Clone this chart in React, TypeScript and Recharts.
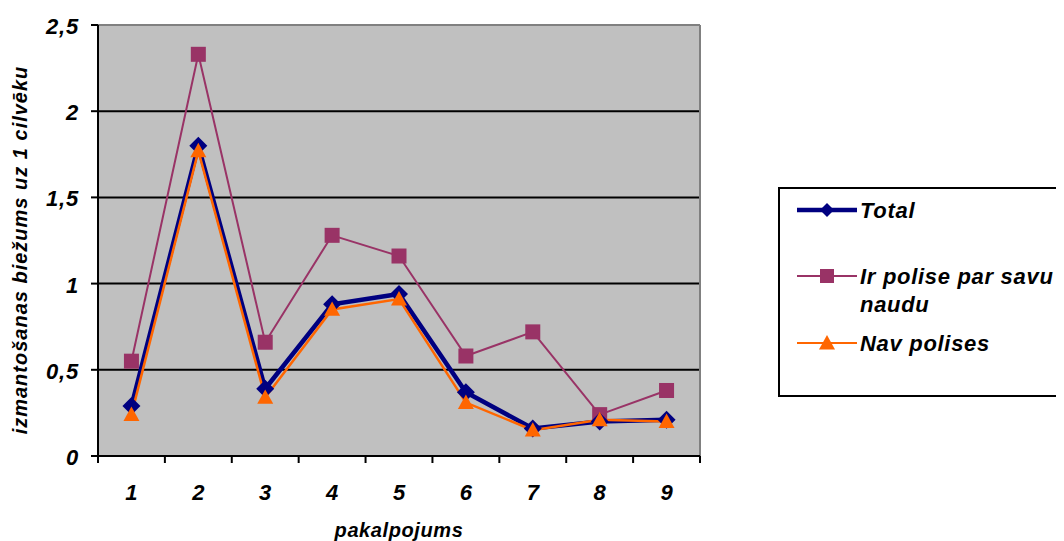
import {
  CartesianGrid,
  Line,
  LineChart,
  ReferenceLine,
  XAxis,
  YAxis,
} from "recharts";

const categories = ["1", "2", "3", "4", "5", "6", "7", "8", "9"];
const total = [0.29, 1.8, 0.39, 0.88, 0.94, 0.37, 0.16, 0.2, 0.21];
const irPolise = [0.55, 2.33, 0.66, 1.28, 1.16, 0.58, 0.72, 0.24, 0.38];
const navPolises = [0.24, 1.77, 0.34, 0.85, 0.91, 0.31, 0.15, 0.21, 0.2];
const yTicks = [0, 0.5, 1, 1.5, 2, 2.5];
// category boundaries, where the x-axis tick marks sit
const xBounds = [0.5, 1.5, 2.5, 3.5, 4.5, 5.5, 6.5, 7.5, 8.5, 9.5];

const W = 1056;
const H = 533;
const MARGIN = { top: 17, right: 364, bottom: 0, left: 0 };
const Y_AXIS_W = 90;
const X_AXIS_H = 85;
const PLOT_W = W - MARGIN.left - MARGIN.right - Y_AXIS_W;
const HALF_STEP = PLOT_W / categories.length / 2;

const FONT = "Arial, 'Liberation Sans', sans-serif";
const NAVY = "#000080";
const PLUM = "#993366";
const ORANGE = "#FF6600";

const data = categories.map((c, i) => ({
  x: i + 1,
  label: c,
  total: total[i],
  ir: irPolise[i],
  nav: navPolises[i],
}));

const textStyle = {
  fontFamily: FONT,
  fontWeight: "bold" as const,
  fontStyle: "italic" as const,
  fill: "#000",
};

function Diamond({ cx, cy, r = 9, color = NAVY }: any) {
  if (cx == null || cy == null) return null;
  return (
    <polygon
      points={`${cx},${cy - r} ${cx + r},${cy} ${cx},${cy + r} ${cx - r},${cy}`}
      fill={color}
    />
  );
}

function Square({ cx, cy, s = 7.5, color = PLUM }: any) {
  if (cx == null || cy == null) return null;
  return <rect x={cx - s} y={cy - s} width={s * 2} height={s * 2} fill={color} />;
}

function Triangle({ cx, cy, r = 8, color = ORANGE }: any) {
  if (cx == null || cy == null) return null;
  return (
    <polygon
      points={`${cx},${cy - r} ${cx + r},${cy + r * 0.8} ${cx - r},${cy + r * 0.8}`}
      fill={color}
    />
  );
}

// labels sit between the boundary ticks
function CategoryTick({ x, y, payload }: any) {
  const v = payload.value as number;
  if (v >= 9.5) return null;
  const label = categories[Math.round(v - 0.5)];
  return (
    <text
      x={x + HALF_STEP}
      y={y + 35}
      textAnchor="middle"
      fontSize={22}
      style={textStyle}
    >
      {label}
    </text>
  );
}

function ValueTick({ x, y, payload }: any) {
  return (
    <text
      x={x}
      y={y + 9}
      textAnchor="end"
      fontSize={22}
      letterSpacing={0.8}
      style={textStyle}
    >
      {String(payload.value).replace(".", ",")}
    </text>
  );
}

function YTitle() {
  return (
    <text
      transform="translate(19, 242) rotate(-90)"
      textAnchor="middle"
      fontSize={20}
      letterSpacing={1}
      style={textStyle}
    >
      izmantošanas biežums uz 1 cilvēku
    </text>
  );
}

function XTitle() {
  return (
    <text
      x={Y_AXIS_W + PLOT_W / 2}
      y={529}
      textAnchor="middle"
      fontSize={20}
      letterSpacing={0.6}
      style={textStyle}
    >
      pakalpojums
    </text>
  );
}

const legendRows = [
  { key: "total", y: 21, color: NAVY, width: 4.5, lines: ["Total"] },
  { key: "ir", y: 87, color: PLUM, width: 2, lines: ["Ir polise par savu", "naudu"] },
  { key: "nav", y: 154, color: ORANGE, width: 2, lines: ["Nav polises"] },
];

function LegendBox() {
  return (
    <div
      style={{
        position: "absolute",
        left: 770,
        top: 179,
        border: "2px solid #000",
        borderRight: "none",
        background: "#fff",
        width: 284,
        height: 206,
      }}
    >
      <svg width={284} height={206} style={{ display: "block" }}>
        {legendRows.map((r) => (
          <g key={r.key}>
            <line x1={17} x2={77} y1={r.y} y2={r.y} stroke={r.color} strokeWidth={r.width} />
            {r.key === "total" && <Diamond cx={47} cy={r.y} r={7} />}
            {r.key === "ir" && <Square cx={47} cy={r.y} s={7} />}
            {r.key === "nav" && <Triangle cx={47} cy={r.y} r={8} />}
            {r.lines.map((t, i) => (
              <text
                key={t}
                x={80}
                y={r.y + 8 + i * 28}
                fontSize={22}
                letterSpacing={0.7}
                style={textStyle}
              >
                {t}
              </text>
            ))}
          </g>
        ))}
      </svg>
    </div>
  );
}

export default function App() {
  return (
    <div style={{ position: "relative", width: W, height: H }}>
      <LineChart width={W} height={H} data={data} margin={MARGIN}>
        <CartesianGrid
          horizontal
          vertical={false}
          fill="#C0C0C0"
          stroke="#000"
          strokeWidth={2}
        />
        <XAxis
          dataKey="x"
          type="number"
          domain={[0.5, 9.5]}
          ticks={xBounds}
          interval={0}
          height={X_AXIS_H}
          axisLine={{ stroke: "#000", strokeWidth: 2 }}
          tickLine={{ stroke: "#000", strokeWidth: 2 }}
          tickSize={7}
          tick={<CategoryTick />}
          label={<XTitle />}
        />
        <YAxis
          domain={[0, 2.5]}
          ticks={yTicks}
          width={Y_AXIS_W}
          axisLine={{ stroke: "#000", strokeWidth: 2 }}
          tickLine={{ stroke: "#000", strokeWidth: 2 }}
          tickSize={7}
          tickMargin={12}
          tick={<ValueTick />}
          label={<YTitle />}
        />
        <ReferenceLine y={2.5} stroke="#808080" strokeWidth={2} />
        <ReferenceLine x={9.5} stroke="#808080" strokeWidth={2} />
        <Line
          dataKey="ir"
          stroke={PLUM}
          strokeWidth={2}
          dot={(p: any) => <Square key={`ir-${p.index}`} cx={p.cx} cy={p.cy} />}
          isAnimationActive={false}
        />
        <Line
          dataKey="total"
          stroke={NAVY}
          strokeWidth={4.5}
          dot={(p: any) => <Diamond key={`t-${p.index}`} cx={p.cx} cy={p.cy} />}
          isAnimationActive={false}
        />
        <Line
          dataKey="nav"
          stroke={ORANGE}
          strokeWidth={2.5}
          dot={(p: any) => <Triangle key={`n-${p.index}`} cx={p.cx} cy={p.cy} />}
          isAnimationActive={false}
        />
      </LineChart>
      <LegendBox />
    </div>
  );
}
